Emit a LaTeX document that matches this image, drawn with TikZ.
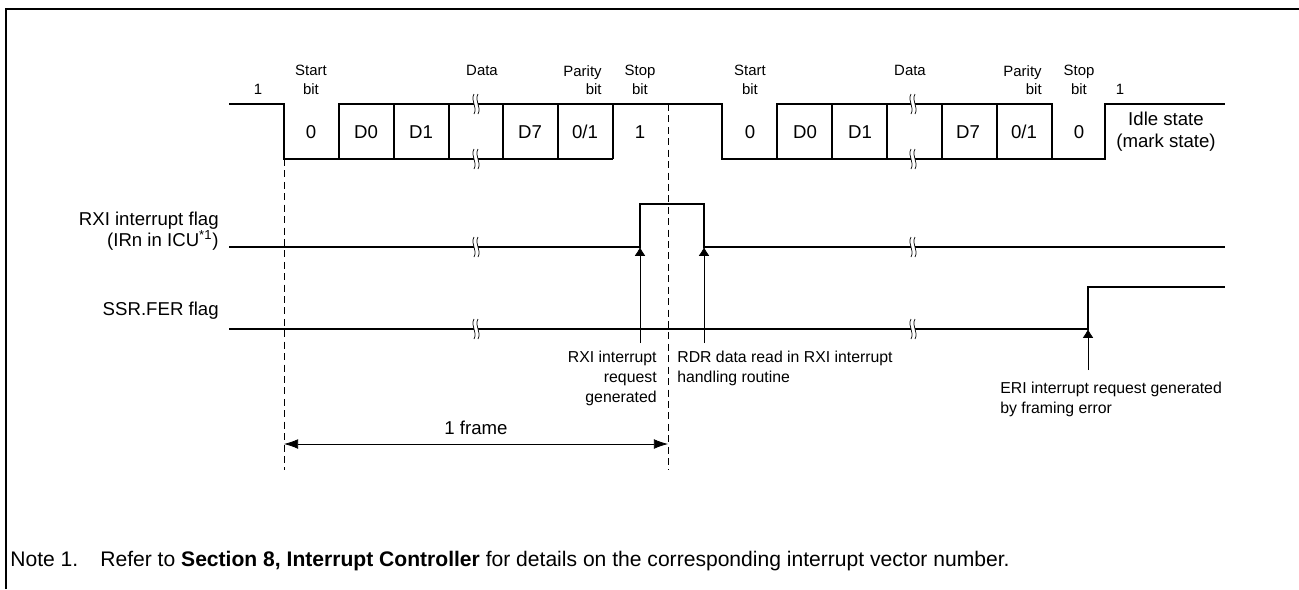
\documentclass[tikz,border=0pt]{standalone}
\usepackage{fontspec}
\setmainfont{Liberation Sans}
\usetikzlibrary{arrows.meta}

\tikzset{
  wave/.style={line width=1pt},
  lbl/.style={inner sep=0pt, font=\fontsize{8.5}{10.5}\selectfont},
  val/.style={inner sep=0pt, font=\fontsize{10.6}{10.6}\selectfont},
  ann/.style={inner sep=0pt, font=\fontsize{9}{11.3}\selectfont},
  notefont/.style={inner sep=0pt, font=\fontsize{12}{14}\selectfont},
  guide/.style={line width=0.4pt, dash pattern=on 4pt off 2.5pt},
  brk/.pic={
    \fill[white] (-2,-10) .. controls (-6,-3) and (2,3) .. (-2,10) -- (2,10) .. controls (6,3) and (-2,-3) .. (2,-10) -- cycle;
    \draw[line width=0.4pt] (-2,-10) .. controls (-6,-3) and (2,3) .. (-2,10);
    \draw[line width=0.4pt] (2,-10) .. controls (-2,-3) and (6,3) .. (2,10);
  }
}

\begin{document}
\begin{tikzpicture}[x=0.02cm, y=-0.02cm, >={Latex[length=5pt,width=6pt]}]
\useasboundingbox (0,0) rectangle (1299,589);
\draw[line width=1.2pt] (6,589) -- (6,9) -- (1299,9);

\draw[wave] (229,104) -- (284,104) -- (284,159) -- (613,159);
\draw[wave] (339,159) -- (339,104) -- (722,104) -- (722,159) -- (1105,159) -- (1105,104) -- (1225,104);
\draw[wave] (777,159) -- (777,104) -- (1052,104) -- (1052,159);
\foreach \x in {394,449,503,558,613,832,887,942,997}
  \draw[wave] (\x,104) -- (\x,159);

\draw[wave] (229,247) -- (640,247) -- (640,204) -- (704,204) -- (704,247) -- (1225,247);
\draw[wave] (229,329) -- (1088,329) -- (1088,287) -- (1225,287);

\foreach \x in {476,913} {
  \pic at (\x,104) {brk};
  \pic at (\x,159) {brk};
  \pic at (\x,247) {brk};
  \pic at (\x,329) {brk};
}

\draw[guide] (284,159) -- (284,470);
\draw[guide] (668,104) -- (668,470);

\node[lbl] (idle1) at (258,89) {1};
\node[lbl, align=center] (start1) at (311,80) {Start\\bit};
\node[lbl] (data1) at (482,70) {Data};
\node[lbl, anchor=east, align=right] (par1) at (602,80) {Parity\\bit};
\node[lbl, align=center] (stop1) at (640,80) {Stop\\bit};
\foreach \x/\t in {311/0, 366/D0, 421/D1, 530/D7, 585/{0/1}, 640/1}
  \node[val] (bitA-\x) at (\x,132) {\t};

\node[lbl, align=center] (start2) at (750,80) {Start\\bit};
\node[lbl] (data2) at (910,70) {Data};
\node[lbl, anchor=east, align=right] (par2) at (1042,80) {Parity\\bit};
\node[lbl, align=center] (stop2) at (1079,80) {Stop\\bit};
\foreach \x/\t in {750/0, 805/D0, 860/D1, 968/D7, 1024/{0/1}, 1079/0}
  \node[val] (bitB-\x) at (\x,132) {\t};
\node[lbl] (idle2) at (1120,89) {1};
\node[val, align=center, font=\fontsize{10.6}{12.5}\selectfont] (idle) at (1166,132) {Idle state\\(mark state)};

\node[val, anchor=east, align=right, font=\fontsize{10.6}{12}\selectfont] (rxiflag) at (219,231) {RXI interrupt flag\\(IRn in ICU\textsuperscript{*1})};
\node[val, anchor=east] (ferflag) at (219,311) {SSR.FER flag};

\coordinate (rxiset) at (640,247);
\coordinate (rxisrc) at (640,343);
\coordinate (rdrclr) at (704,247);
\coordinate (rdrsrc) at (704,343);
\coordinate (ferset) at (1088,329);
\coordinate (fersrc) at (1088,370);
\draw[->] (rxisrc) -- (rxiset);
\draw[->] (rdrsrc) -- (rdrclr);
\draw[->] (fersrc) -- (ferset);

\node[ann, anchor=north east, align=right] (rxireq) at (657,351) {RXI interrupt\\request\\generated};
\node[ann, anchor=north west, align=left] (rdrread) at (677,351) {RDR data read in RXI interrupt\\handling routine};
\node[ann, anchor=north west, align=left] (erireq) at (1000,382) {ERI interrupt request generated\\by framing error};

\coordinate (frbeg) at (284,444);
\coordinate (frend) at (668,444);
\draw[{Latex[length=8pt,width=5.5pt]}-{Latex[length=8pt,width=5.5pt]}] (frbeg) -- (frend);
\node[val] (frame) at (476,428) {1 frame};

\node[notefont, anchor=base west] (note) at (10,566) {Note 1.};
\node[notefont, anchor=base west] (notetxt) at (100,566) {Refer to \textbf{Section 8, Interrupt Controller} for details on the corresponding interrupt vector number.};
\end{tikzpicture}
\end{document}
